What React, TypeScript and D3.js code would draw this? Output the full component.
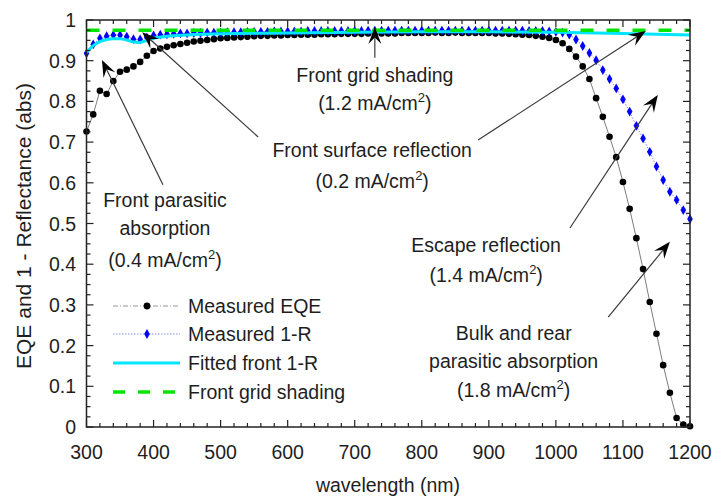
import React, { useEffect, useRef } from 'react'
import * as d3 from 'd3'

// sampled wavelengths for measured curves (nm)
const wavelength = d3.range(300, 1201, 10)

// Measured EQE, 300..1200 nm every 10 nm
const eqe = [
  0.726, 0.768, 0.826, 0.818, 0.850, 0.873, 0.878, 0.886, 0.897, 0.912,
  0.924, 0.930, 0.934, 0.938, 0.941, 0.944, 0.947, 0.949, 0.951, 0.953,
  0.955, 0.956, 0.957, 0.958, 0.959, 0.960, 0.961, 0.961, 0.962, 0.962,
  0.963, 0.963, 0.964, 0.964, 0.964, 0.965, 0.965, 0.965, 0.966, 0.966,
  0.966, 0.966, 0.967, 0.967, 0.967, 0.967, 0.967, 0.968, 0.968, 0.968,
  0.968, 0.968, 0.969, 0.968, 0.968, 0.969, 0.968, 0.968, 0.968, 0.968,
  0.968, 0.967, 0.967, 0.966, 0.965, 0.964, 0.963, 0.961, 0.959, 0.956,
  0.951, 0.943, 0.929, 0.910, 0.886, 0.855, 0.808, 0.762, 0.713, 0.663,
  0.602, 0.536, 0.464, 0.388, 0.307, 0.229, 0.152, 0.084, 0.022, 0.006,
  0.002,
]

// Measured 1-R, 300..1200 nm every 10 nm
const oneMinusR = [
  0.918, 0.940, 0.955, 0.960, 0.963, 0.963, 0.959, 0.953, 0.952, 0.957,
  0.962, 0.964, 0.965, 0.966, 0.967, 0.967, 0.968, 0.968, 0.969, 0.969,
  0.969, 0.970, 0.970, 0.970, 0.971, 0.971, 0.971, 0.971, 0.972, 0.972,
  0.972, 0.972, 0.972, 0.973, 0.973, 0.973, 0.973, 0.973, 0.973, 0.973,
  0.973, 0.973, 0.974, 0.974, 0.974, 0.974, 0.974, 0.974, 0.974, 0.974,
  0.974, 0.974, 0.974, 0.974, 0.974, 0.974, 0.974, 0.974, 0.974, 0.974,
  0.974, 0.974, 0.974, 0.974, 0.974, 0.974, 0.973, 0.973, 0.973, 0.972,
  0.971, 0.969, 0.964, 0.952, 0.936, 0.919, 0.901, 0.877, 0.855, 0.832,
  0.805, 0.775, 0.740, 0.709, 0.676, 0.640, 0.607, 0.578, 0.558, 0.533,
  0.511,
]

// Fitted front 1-R
const fitWavelength = [300, 310, 320, 330, 340, 350, 360, 370, 380, 390, 400, 420, 450, 500, 600, 700, 800, 900, 1000, 1100, 1200]
const fitOneMinusR = [0.920, 0.937, 0.947, 0.952, 0.954, 0.954, 0.951, 0.946, 0.945, 0.950, 0.955, 0.960, 0.963, 0.966, 0.968, 0.970, 0.971, 0.971, 0.970, 0.967, 0.963]

// Front grid shading level
const shadingWavelength = [300, 1200]
const shadingLevel = [0.975, 0.975]

const xTicks = [300, 400, 500, 600, 700, 800, 900, 1000, 1100, 1200]
const yTicks = [0, 0.1, 0.2, 0.3, 0.4, 0.5, 0.6, 0.7, 0.8, 0.9, 1]
const yTickLabels = ['0', '0.1', '0.2', '0.3', '0.4', '0.5', '0.6', '0.7', '0.8', '0.9', '1']
const legendLabels = ['Measured EQE', 'Measured 1-R', 'Fitted front 1-R', 'Front grid shading']

// annotation text (lines) and current in mA/cm2
const noteText = [
  ['Front grid shading', '1.2'],
  ['Front surface reflection', '0.2'],
  ['Front parasitic', 'absorption', '0.4'],
  ['Escape reflection', '1.4'],
  ['Bulk and rear', 'parasitic absorption', '1.8'],
]

const FONT = '"Liberation Sans", Arial, sans-serif'
const TEXT = '#1e1e1e'

function arrowHead(x1: number, y1: number, x2: number, y2: number, L = 17, W = 13) {
  const len = Math.hypot(x2 - x1, y2 - y1)
  const ux = (x2 - x1) / len, uy = (y2 - y1) / len
  const nx = -uy, ny = ux
  const bx = x2 - ux * L, by = y2 - uy * L
  const mx = x2 - ux * L * 0.62, my = y2 - uy * L * 0.62
  return {
    d: `M${x2},${y2}L${bx + nx * W / 2},${by + ny * W / 2}L${mx},${my}L${bx - nx * W / 2},${by - ny * W / 2}Z`,
    mx, my,
  }
}

export default function App() {
  const ref = useRef<SVGSVGElement>(null)

  useEffect(() => {
    const svg = d3.select(ref.current)
    svg.selectAll('*').remove()

    const left = 86.5, right = 690, top = 20, bottom = 427
    const x = d3.scaleLinear().domain([300, 1200]).range([left, right])
    const y = d3.scaleLinear().domain([0, 1]).range([bottom, top])

    svg.append('rect').attr('width', 728).attr('height', 498).attr('fill', '#fff')

    const eqeData = wavelength.map((w, i) => [w, eqe[i]] as [number, number])
    const rData = wavelength.map((w, i) => [w, oneMinusR[i]] as [number, number])
    const fitData = fitWavelength.map((w, i) => [w, fitOneMinusR[i]] as [number, number])
    const shadeData = shadingWavelength.map((w, i) => [w, shadingLevel[i]] as [number, number])
    const line = d3.line<[number, number]>().x(d => x(d[0])).y(d => y(d[1]))

    // measured EQE
    svg.append('path').datum(eqeData).attr('d', line)
      .attr('fill', 'none').attr('stroke', '#6e6e6e').attr('stroke-width', 0.9)
    svg.append('g').selectAll('circle').data(eqeData).join('circle')
      .attr('cx', d => x(d[0])).attr('cy', d => y(d[1])).attr('r', 3.3).attr('fill', '#000')

    // measured 1-R
    svg.append('path').datum(rData).attr('d', line)
      .attr('fill', 'none').attr('stroke', '#7a7aff').attr('stroke-width', 0.9).attr('stroke-dasharray', '1.5,1.5')
    const diamond = d3.symbol().type(d3.symbolDiamond).size(28)
    svg.append('g').selectAll('path').data(rData).join('path')
      .attr('d', diamond).attr('transform', d => `translate(${x(d[0])},${y(d[1])})`).attr('fill', '#0000ff')

    // fitted front 1-R
    svg.append('path').datum(fitData).attr('d', line.curve(d3.curveMonotoneX))
      .attr('fill', 'none').attr('stroke', '#00e5ff').attr('stroke-width', 3)
    line.curve(d3.curveLinear)

    // grid shading
    svg.append('path').datum(shadeData).attr('d', line)
      .attr('fill', 'none').attr('stroke', '#00e600').attr('stroke-width', 3.5).attr('stroke-dasharray', '13,13')

    // frame and ticks
    const axes = svg.append('g').attr('stroke', '#222')
    axes.append('rect').attr('x', left).attr('y', top).attr('width', right - left).attr('height', bottom - top)
      .attr('fill', 'none').attr('stroke-width', 1.5)
    d3.range(300, 1201, 20).forEach(v => {
      const len = v % 100 === 0 ? 7 : 4
      axes.append('line').attr('x1', x(v)).attr('x2', x(v)).attr('y1', bottom).attr('y2', bottom - len).attr('stroke-width', 1.2)
      axes.append('line').attr('x1', x(v)).attr('x2', x(v)).attr('y1', top).attr('y2', top + len).attr('stroke-width', 1.2)
    })
    d3.range(0, 41).forEach(k => {
      const v = k * 0.025
      const len = k % 4 === 0 ? 7 : 4
      axes.append('line').attr('x1', left).attr('x2', left + len).attr('y1', y(v)).attr('y2', y(v)).attr('stroke-width', 1.2)
      axes.append('line').attr('x1', right).attr('x2', right - len).attr('y1', y(v)).attr('y2', y(v)).attr('stroke-width', 1.2)
    })

    // tick labels
    svg.append('g').selectAll('text').data(xTicks).join('text')
      .attr('x', d => x(d)).attr('y', 459).attr('text-anchor', 'middle')
      .style('font-family', FONT).style('font-size', '19.5px').attr('fill', TEXT).text(d => d)
    svg.append('g').selectAll('text').data(yTicks).join('text')
      .attr('x', 76).attr('y', d => y(d) + 7).attr('text-anchor', 'end')
      .style('font-family', FONT).style('font-size', '19.5px').attr('fill', TEXT).text((d, i) => yTickLabels[i])

    // axis titles
    svg.append('text').attr('x', 388).attr('y', 492).attr('text-anchor', 'middle')
      .style('font-family', FONT).style('font-size', '19.5px').attr('fill', TEXT).text('wavelength (nm)')
    svg.append('text').attr('transform', 'translate(31,226) rotate(-90)').attr('text-anchor', 'middle')
      .style('font-family', FONT).style('font-size', '21px').attr('fill', TEXT).text('EQE and 1 - Reflectance (abs)')

    // legend
    const lg = svg.append('g').style('font-family', FONT).style('font-size', '19.5px')
    const ly = [306, 334, 363, 392]
    lg.append('line').attr('x1', 113).attr('x2', 180).attr('y1', ly[0]).attr('y2', ly[0])
      .attr('stroke', '#8a8a8a').attr('stroke-width', 0.9).attr('stroke-dasharray', '5,2,1,2')
    lg.append('circle').attr('cx', 147).attr('cy', ly[0]).attr('r', 3.4).attr('fill', '#000')
    lg.append('line').attr('x1', 113).attr('x2', 180).attr('y1', ly[1]).attr('y2', ly[1])
      .attr('stroke', '#7a7aff').attr('stroke-width', 0.9).attr('stroke-dasharray', '1.5,1.5')
    lg.append('path').attr('d', diamond).attr('transform', `translate(147,${ly[1]})`).attr('fill', '#0000ff')
    lg.append('line').attr('x1', 113).attr('x2', 180).attr('y1', ly[2]).attr('y2', ly[2])
      .attr('stroke', '#00e5ff').attr('stroke-width', 3)
    lg.append('line').attr('x1', 113).attr('x2', 180).attr('y1', ly[3]).attr('y2', ly[3])
      .attr('stroke', '#00e600').attr('stroke-width', 3.5).attr('stroke-dasharray', '12,13')
    lg.selectAll('text').data(legendLabels).join('text')
      .attr('x', 188).attr('y', (d, i) => ly[i] + 7).attr('fill', TEXT).text(d => d)

    // annotations: text anchor point in data coords
    const notePos = [
      { cx: 730, ys: [0.848, 0.779] },
      { cx: 726, ys: [0.663, 0.587] },
      { cx: 417, ys: [0.541, 0.472, 0.393] },
      { cx: 896, ys: [0.430, 0.356] },
      { cx: 937, ys: [0.214, 0.145, 0.074] },
    ]
    const ann = svg.append('g').style('font-family', FONT).style('font-size', '19.5px').attr('fill', TEXT)
    noteText.forEach((lines, k) => {
      const pos = notePos[k]
      lines.forEach((txt, j) => {
        const t = ann.append('text').attr('x', x(pos.cx)).attr('y', y(pos.ys[j])).attr('text-anchor', 'middle')
        if (j === lines.length - 1) {
          t.append('tspan').text(`(${txt} mA/cm`)
          t.append('tspan').attr('dy', -8).style('font-size', '13px').text('2')
          t.append('tspan').attr('dy', 8).text(')')
        } else {
          t.text(txt)
        }
      })
    })

    // arrows: [from nm, from value, to nm, to value]
    const arrows = [
      [730, 0.907, 730, 0.983],
      [556, 0.7125, 383, 0.970],
      [884, 0.705, 1134, 0.973],
      [414, 0.595, 323, 0.902],
      [1021, 0.489, 1152, 0.816],
      [1078, 0.27, 1170, 0.455],
    ]
    const ar = svg.append('g')
    arrows.forEach(a => {
      const x1 = x(a[0]), y1 = y(a[1]), x2 = x(a[2]), y2 = y(a[3])
      const h = arrowHead(x1, y1, x2, y2)
      ar.append('line').attr('x1', x1).attr('y1', y1).attr('x2', h.mx).attr('y2', h.my)
        .attr('stroke', '#3a3a3a').attr('stroke-width', 1.2)
      ar.append('path').attr('d', h.d).attr('fill', '#000')
    })
  }, [])

  return (
    <svg ref={ref} width={728} height={498} style={{ position: 'fixed', left: 0, top: 0 }} />
  )
}
